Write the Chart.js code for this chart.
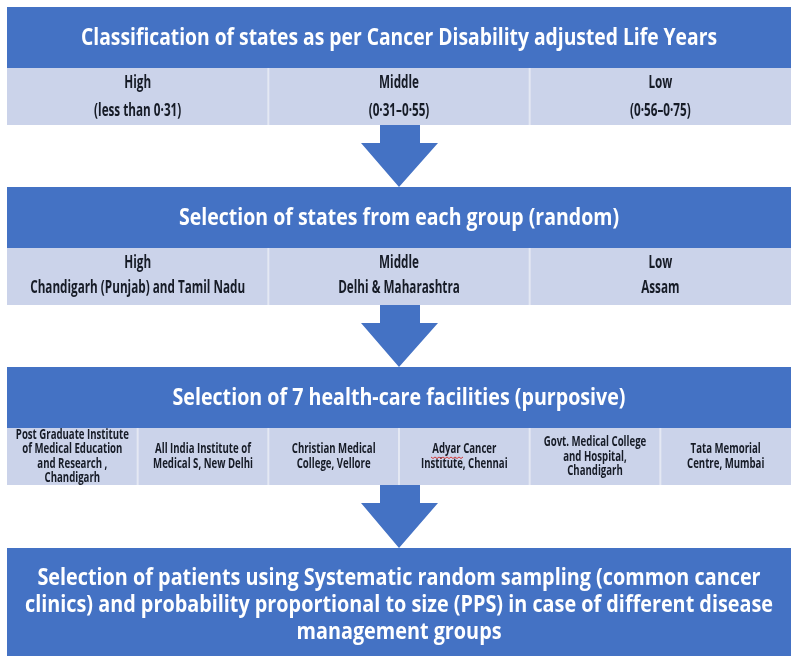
<!DOCTYPE html>
<html>
<head>
<meta charset="utf-8">
<script src="https://cdn.jsdelivr.net/npm/chart.js@4"></script>
<style>
  body { margin: 0; background: #fff; }
  canvas { display: block; }
</style>
</head>
<body>
<canvas id="flow" width="793" height="656"></canvas>
<script>
// text of the flow, top to bottom
var stepTitles = [
  "Classification of states as per Cancer Disability adjusted Life Years",
  "Selection of states from each group (random)",
  "Selection of 7 health-care facilities (purposive)"
];
var groupLevels = ["High", "Middle", "Low"];
var dalyRanges = ["(less than 0·31)", "(0·31–0·55)", "(0·56–0·75)"];
var selectedStates = ["Chandigarh (Punjab) and Tamil Nadu", "Delhi & Maharashtra", "Assam"];
var facilities = [
  ["Post Graduate Institute", "of Medical Education", "and Research ,", "Chandigarh"],
  ["All India Institute of", "Medical S, New Delhi"],
  ["Christian Medical", "College, Vellore"],
  ["Adyar Cancer", "Institute, Chennai"],
  ["Govt. Medical College", "and Hospital,", "Chandigarh"],
  ["Tata Memorial", "Centre, Mumbai"]
];
var finalStep = [
  "Selection of patients using Systematic random sampling (common cancer",
  "clinics) and probability proportional to size (PPS) in case of different disease",
  "management groups"
];

// layout (in axis units = pixels)
var L = 7, R = 791;
var rows = [
  { head: [7, 68], cells: [68, 125], title: 38, tw: 636 },
  { head: [187, 248], cells: [248, 305], title: 218, tw: 440 },
  { head: [367, 428], cells: [428, 485], title: 398, tw: 453 }
];
var finalBox = [548, 660];
var BLUE = "#4472C4", LIGHT = "#CBD3EA", INK = "#161b26";
var FONT = "'Open Sans'";

function drawFit(ctx, text, x, y, size, sx) {
  ctx.save();
  ctx.font = "bold " + size + "px " + FONT;
  ctx.translate(x, y);
  ctx.scale(sx, 1);
  ctx.textAlign = "center";
  ctx.textBaseline = "middle";
  ctx.fillText(text, 0, 0);
  ctx.restore();
}
function fitScale(ctx, text, size, target) {
  ctx.font = "bold " + size + "px " + FONT;
  return target / ctx.measureText(text).width;
}

var flowPlugin = {
  id: "flow",
  afterDraw: function (chart) {
    var ctx = chart.ctx;
    var xs = chart.scales.x, ys = chart.scales.y;
    var px = function (v) { return xs.getPixelForValue(v); };
    var py = function (v) { return ys.getPixelForValue(v); };
    var rect = function (x0, y0, x1, y1, c) {
      ctx.fillStyle = c;
      ctx.fillRect(px(x0), py(y0), px(x1) - px(x0), py(y1) - py(y0));
    };
    var arrow = function (top, tip) {
      ctx.fillStyle = BLUE;
      ctx.beginPath();
      ctx.moveTo(px(380), py(top));
      ctx.lineTo(px(420), py(top));
      ctx.lineTo(px(420), py(top + 18));
      ctx.lineTo(px(438), py(top + 18));
      ctx.lineTo(px(399), py(tip));
      ctx.lineTo(px(361), py(top + 18));
      ctx.lineTo(px(380), py(top + 18));
      ctx.closePath();
      ctx.fill();
    };

    rows.forEach(function (r, i) {
      rect(L, r.head[0], R, r.head[1], BLUE);
      rect(L, r.cells[0], R, r.cells[1], LIGHT);
      ctx.fillStyle = "#fff";
      drawFit(ctx, stepTitles[i], px(399), py(r.title), 24, fitScale(ctx, stepTitles[i], 24, r.tw));
      var n = i < 2 ? 3 : 6;
      var w = (R - L) / n;
      ctx.strokeStyle = "#e4e8f3";
      ctx.lineWidth = 2;
      for (var k = 1; k < n; k++) {
        ctx.beginPath();
        ctx.moveTo(px(L + k * w), py(r.cells[0]));
        ctx.lineTo(px(L + k * w), py(r.cells[1]));
        ctx.stroke();
      }
    });

    // row 1 and 2 cells
    ctx.fillStyle = INK;
    var sx1 = fitScale(ctx, selectedStates[0], 18, 215);
    var w3 = (R - L) / 3;
    for (var c = 0; c < 3; c++) {
      var cx = px(L + w3 * (c + 0.5));
      drawFit(ctx, groupLevels[c], cx, py(83), 18, sx1);
      drawFit(ctx, dalyRanges[c], cx, py(111), 18, sx1);
      drawFit(ctx, groupLevels[c], cx, py(263), 18, sx1);
      drawFit(ctx, selectedStates[c], cx, py(288), 18, sx1);
    }

    // row 3 cells
    var sx3 = fitScale(ctx, facilities[0][0], 14.5, 113);
    var w6 = (R - L) / 6;
    var mid = 456.5, lh = 14.5;
    facilities.forEach(function (lines, j) {
      var cx = px(L + w6 * (j + 0.5));
      lines.forEach(function (t, m) {
        var y = mid + (m - (lines.length - 1) / 2) * lh;
        drawFit(ctx, t, cx, py(y), 14.5, sx3);
      });
    });
    // spell-check squiggle under "Adyar"
    ctx.strokeStyle = "#d23b3b";
    ctx.lineWidth = 1;
    ctx.beginPath();
    for (var q = 0; q <= 32; q += 2) {
      var yy = py(457) + (q % 4 === 0 ? 0 : 1.5);
      if (q === 0) ctx.moveTo(px(431 + q), yy); else ctx.lineTo(px(431 + q), yy);
    }
    ctx.stroke();

    arrow(125, 187);
    arrow(305, 367);
    arrow(485, 548);

    rect(L, finalBox[0], R, finalBox[1], BLUE);
    ctx.fillStyle = "#fff";
    var sxf = fitScale(ctx, finalStep[1], 24, 748);
    [578, 605, 632].forEach(function (y, m) {
      drawFit(ctx, finalStep[m], px(399), py(y), 24, sxf);
    });
  }
};

new Chart(document.getElementById("flow").getContext("2d"), {
  type: "scatter",
  data: { datasets: [] },
  options: {
    responsive: false,
    animation: false,
    layout: { padding: 0 },
    plugins: { legend: { display: false }, tooltip: { enabled: false } },
    scales: {
      x: { type: "linear", min: 0, max: 793, display: false },
      y: { type: "linear", min: 0, max: 656, reverse: true, display: false }
    }
  },
  plugins: [flowPlugin]
});
</script>
</body>
</html>
